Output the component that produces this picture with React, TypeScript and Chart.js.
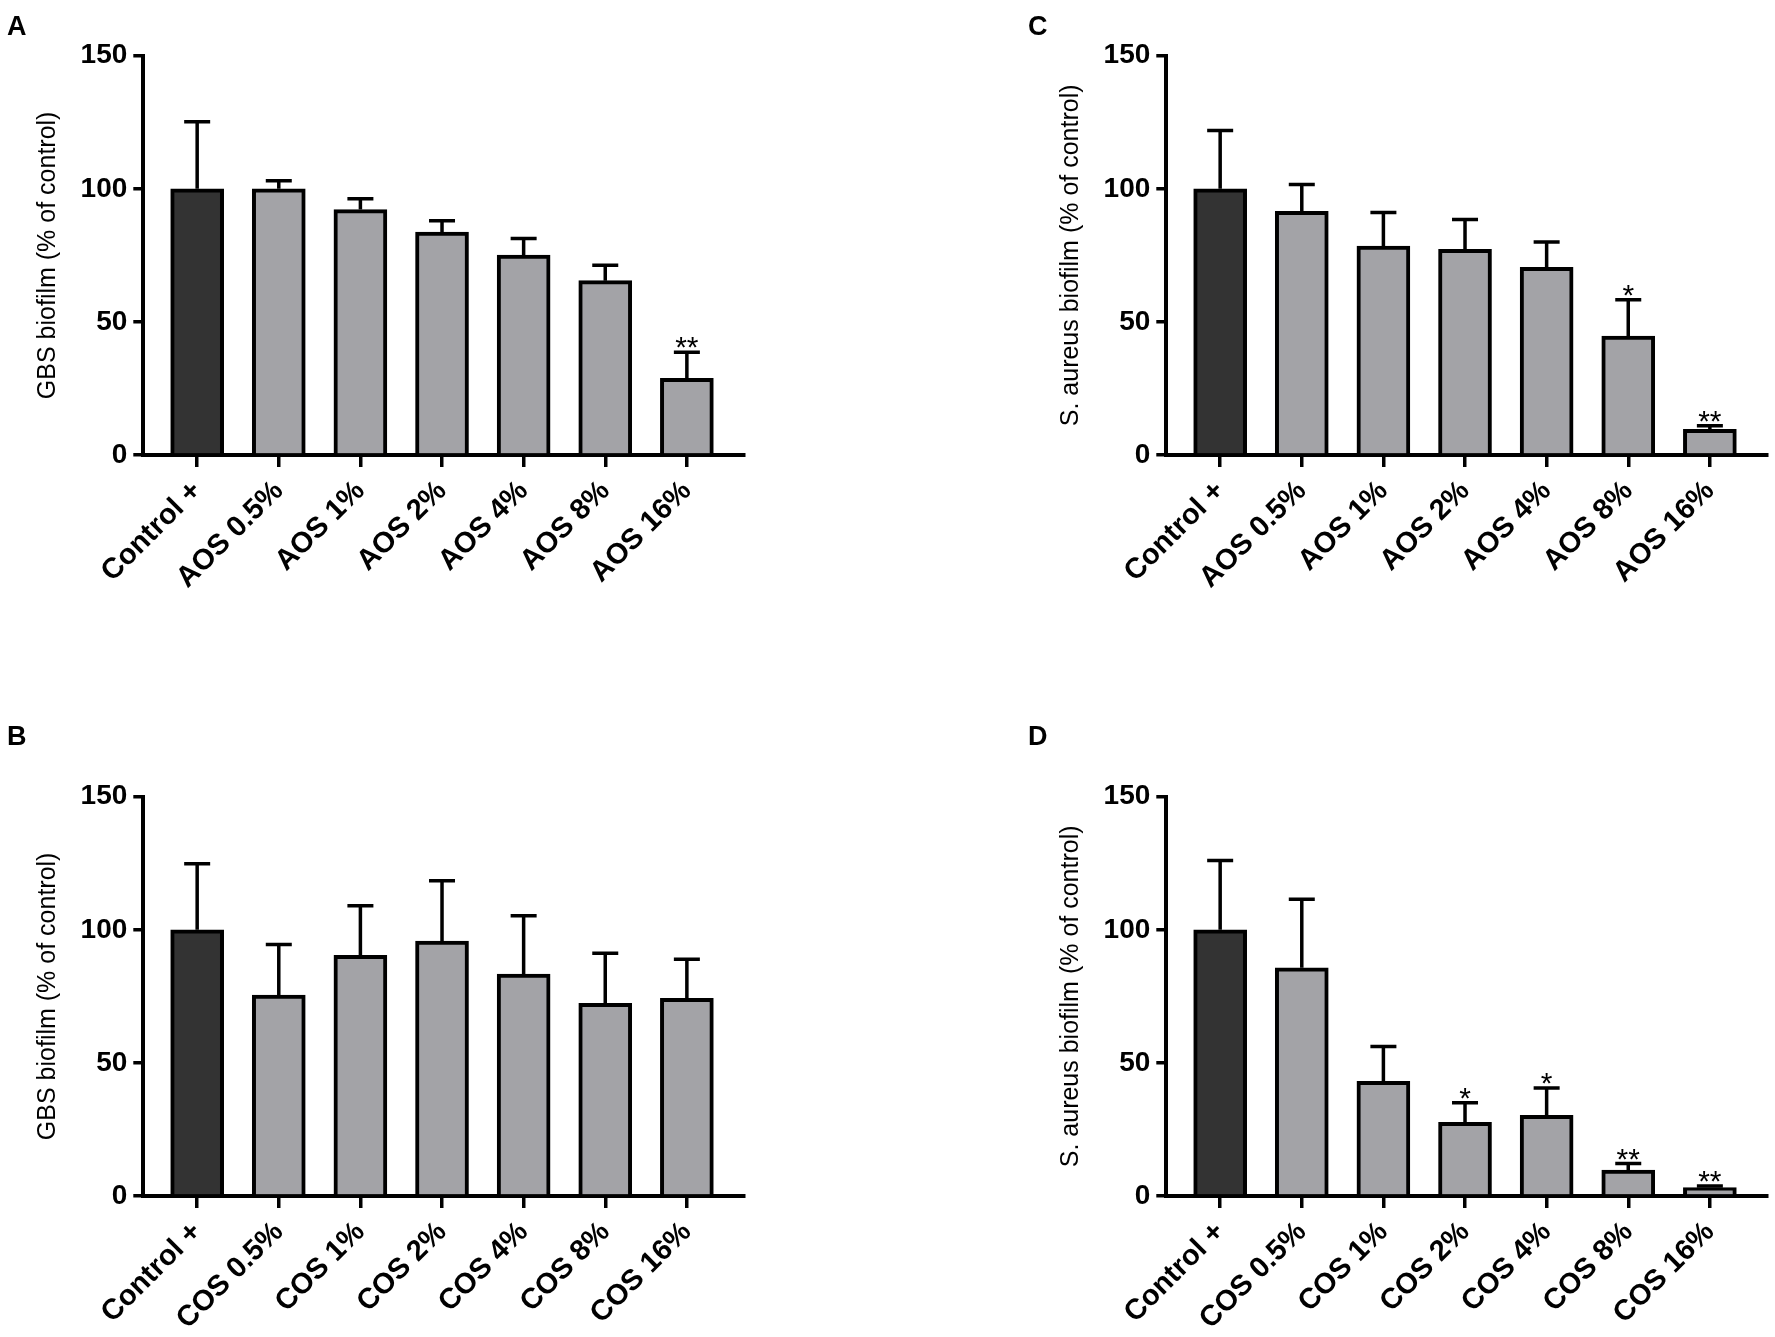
import React, { useEffect, useRef } from 'react';
import { Chart, registerables } from 'chart.js';

Chart.register(...registerables);

const aosLabels = ['Control +', 'AOS 0.5%', 'AOS 1%', 'AOS 2%', 'AOS 4%', 'AOS 8%', 'AOS 16%'];
const cosLabels = ['Control +', 'COS 0.5%', 'COS 1%', 'COS 2%', 'COS 4%', 'COS 8%', 'COS 16%'];
const yTicks = [0, 50, 100, 150];

// Panel A: GBS + AOS
const gbsAosMean = [100, 100, 92.2, 83.7, 75.1, 65.5, 28.8];
const gbsAosUpper = [125.2, 103, 96.3, 88, 81.3, 71.3, 38.6];
const gbsAosSig = ['', '', '', '', '', '', '**'];

// Panel B: GBS + COS
const gbsCosMean = [100, 75.5, 90.4, 95.8, 83.4, 72.4, 74.3];
const gbsCosUpper = [124.8, 94.5, 109, 118.4, 105.3, 91.2, 88.9];
const gbsCosSig = ['', '', '', '', '', '', ''];

// Panel C: S. aureus + AOS
const saAosMean = [100, 91.5, 78.5, 77.3, 70.5, 44.7, 9.6];
const saAosUpper = [121.9, 101.6, 91.1, 88.5, 80, 58.3, 11];
const saAosSig = ['', '', '', '', '', '*', '**'];

// Panel D: S. aureus + COS
const saCosMean = [100, 85.7, 43.1, 27.7, 30.3, 9.7, 3.2];
const saCosUpper = [126, 111.5, 56.2, 35, 40.6, 12.2, 3.8];
const saCosSig = ['', '', '', '*', '*', '**', '**'];

const FONT = "'Liberation Sans', Arial, Helvetica, sans-serif";

type PanelDef = {
  letter: string;
  letterX: number;
  letterY: number;
  left: number;
  top: number;
  width: number;
  height: number;
  padTop: number;
  padRight: number;
  xAxisHeight: number;
  labels: string[];
  mean: number[];
  upper: number[];
  sig: string[];
  yTitle: string;
};

const panels: PanelDef[] = [
  {
    letter: 'A', letterX: 7, letterY: 35, left: 0, top: 0, width: 887, height: 668,
    padTop: 55.7, padRight: 143, xAxisHeight: 213,
    labels: aosLabels, mean: gbsAosMean, upper: gbsAosUpper, sig: gbsAosSig,
    yTitle: 'GBS biofilm (% of control)',
  },
  {
    letter: 'B', letterX: 7, letterY: 77, left: 0, top: 668, width: 887, height: 669,
    padTop: 128.7, padRight: 143, xAxisHeight: 141,
    labels: cosLabels, mean: gbsCosMean, upper: gbsCosUpper, sig: gbsCosSig,
    yTitle: 'GBS biofilm (% of control)',
  },
  {
    letter: 'C', letterX: 5, letterY: 35, left: 1023, top: 0, width: 752, height: 668,
    padTop: 55.7, padRight: 8, xAxisHeight: 213,
    labels: aosLabels, mean: saAosMean, upper: saAosUpper, sig: saAosSig,
    yTitle: 'S. aureus biofilm (% of control)',
  },
  {
    letter: 'D', letterX: 5, letterY: 77, left: 1023, top: 668, width: 752, height: 669,
    padTop: 128.7, padRight: 8, xAxisHeight: 141,
    labels: cosLabels, mean: saCosMean, upper: saCosUpper, sig: saCosSig,
    yTitle: 'S. aureus biofilm (% of control)',
  },
];

function Panel({ p }: { p: PanelDef }) {
  const ref = useRef<HTMLCanvasElement | null>(null);
  useEffect(() => {
    if (!ref.current) return;
    const errPlugin = {
      id: 'errbars',
      afterDatasetsDraw(chart: any) {
        const { ctx } = chart;
        const xs = chart.scales.x;
        const ys = chart.scales.y;
        ctx.save();
        ctx.strokeStyle = '#000';
        ctx.fillStyle = '#000';
        ctx.lineWidth = 3.5;
        p.mean.forEach((m, i) => {
          const x = xs.getPixelForValue(i);
          const yb = ys.getPixelForValue(m);
          const yt = ys.getPixelForValue(p.upper[i]);
          ctx.beginPath();
          ctx.moveTo(x, yb);
          ctx.lineTo(x, yt);
          ctx.moveTo(x - 13, yt);
          ctx.lineTo(x + 13, yt);
          ctx.stroke();
          if (p.sig[i]) {
            ctx.font = `30px ${FONT}`;
            ctx.textAlign = 'center';
            ctx.textBaseline = 'alphabetic';
            ctx.fillText(p.sig[i], x, yt + 5);
          }
        });
        ctx.restore();
      },
      afterDraw(chart: any) {
        const { ctx } = chart;
        ctx.save();
        ctx.fillStyle = '#000';
        ctx.font = `bold 27px ${FONT}`;
        ctx.textAlign = 'left';
        ctx.textBaseline = 'alphabetic';
        ctx.fillText(p.letter, p.letterX, p.letterY);
        ctx.restore();
      },
    };

    const chart = new Chart(ref.current, {
      type: 'bar',
      data: {
        datasets: [
          {
            data: p.mean.map((v, i) => ({ x: i, y: v })),
            backgroundColor: p.mean.map((_, i) => (i === 0 ? '#333333' : '#a3a3a7')),
            borderColor: '#000',
            borderWidth: 4,
            borderSkipped: 'start',
            barThickness: 53,
          } as any,
        ],
      },
      options: {
        responsive: false,
        animation: false,
        devicePixelRatio: 1,
        layout: { padding: { left: 0, top: p.padTop, right: p.padRight, bottom: 0 } },
        plugins: { legend: { display: false }, tooltip: { enabled: false } },
        scales: {
          x: {
            type: 'linear',
            min: -0.66,
            max: 6.7,
            offset: false,
            afterBuildTicks: (s: any) => {
              s.ticks = p.labels.map((_, i) => ({ value: i }));
            },
            afterFit: (s: any) => {
              s.height = p.xAxisHeight;
            },
            ticks: {
              autoSkip: false,
              maxRotation: 45,
              minRotation: 45,
              padding: 7,
              color: '#000',
              font: { family: FONT, size: 29, weight: 'bold' },
              callback: (v: any) => p.labels[Number(v)] ?? '',
            },
            grid: {
              offset: false,
              drawOnChartArea: false,
              drawTicks: true,
              tickLength: 12,
              tickWidth: 3.5,
              lineWidth: 3.5,
              tickColor: '#000',
              color: '#000',
            },
            border: { display: true, color: '#000', width: 4 },
          } as any,
          y: {
            min: 0,
            max: 150,
            afterBuildTicks: (s: any) => {
              s.ticks = yTicks.map((v) => ({ value: v }));
            },
            afterFit: (s: any) => {
              s.width = 143.3;
            },
            ticks: {
              padding: 6,
              color: '#000',
              font: { family: FONT, size: 28, weight: 'bold' },
            },
            grid: {
              drawOnChartArea: false,
              drawTicks: true,
              tickLength: 10,
              tickWidth: 3.5,
              lineWidth: 3.5,
              tickColor: '#000',
              color: '#000',
            },
            border: { display: true, color: '#000', width: 4 },
            title: {
              display: true,
              text: p.yTitle,
              color: '#000',
              font: { family: FONT, size: 25, weight: 'normal' },
              padding: { top: 33, bottom: 0 },
            },
          } as any,
        },
      },
      plugins: [errPlugin],
    });
    return () => chart.destroy();
  }, [p]);

  return (
    <canvas
      ref={ref}
      width={p.width}
      height={p.height}
      style={{ position: 'absolute', left: p.left, top: p.top, width: p.width, height: p.height }}
    />
  );
}

export default function App() {
  return (
    <div
      style={{
        position: 'absolute',
        left: 0,
        top: 0,
        width: 1775,
        height: 1337,
        background: '#fff',
        overflow: 'hidden',
      }}
    >
      {panels.map((p) => (
        <Panel key={p.letter} p={p} />
      ))}
    </div>
  );
}
